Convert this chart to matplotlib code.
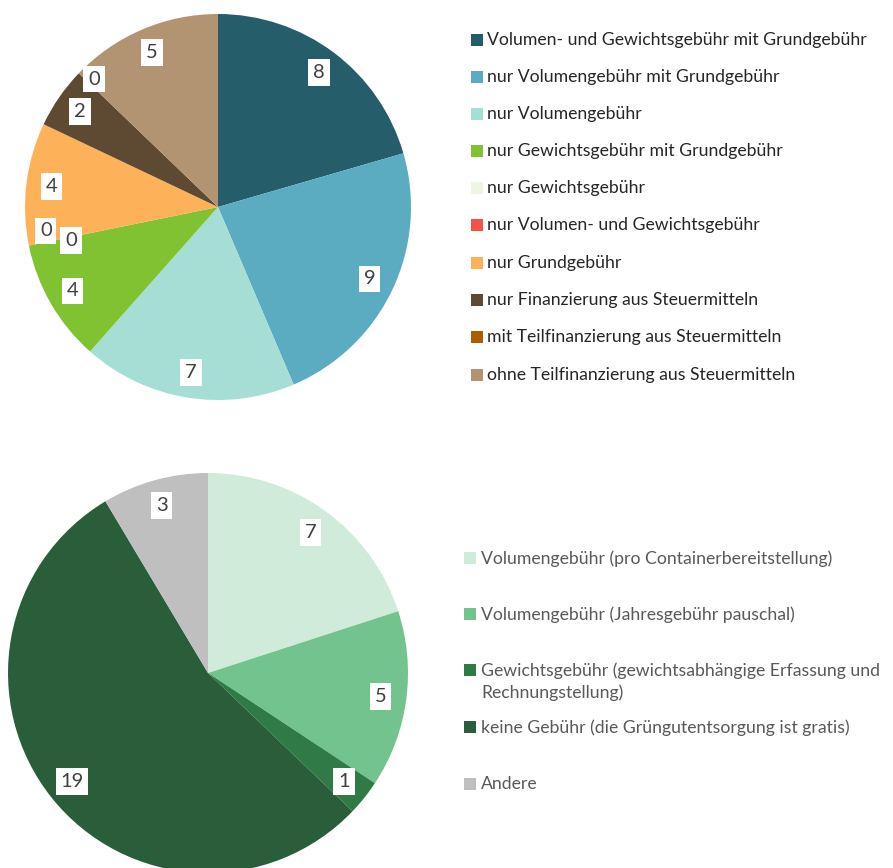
import matplotlib.pyplot as plt
import numpy as np
from matplotlib.patches import Rectangle

# --- data ---
top_labels = [
    "Volumen- und Gewichtsgebühr mit Grundgebühr",
    "nur Volumengebühr mit Grundgebühr",
    "nur Volumengebühr",
    "nur Gewichtsgebühr mit Grundgebühr",
    "nur Gewichtsgebühr",
    "nur Volumen- und Gewichtsgebühr",
    "nur Grundgebühr",
    "nur Finanzierung aus Steuermitteln",
    "mit Teilfinanzierung aus Steuermitteln",
    "ohne Teilfinanzierung aus Steuermitteln",
]
top_values = [8, 9, 7, 4, 0, 0, 4, 2, 0, 5]
top_colors = ["#265d6a", "#5bacc1", "#a6ddd5", "#80c232", "#eef5e3",
              "#f4514a", "#fdb25a", "#5e4a33", "#a85f00", "#b39472"]

bottom_labels = [
    "Volumengebühr (pro Containerbereitstellung)",
    "Volumengebühr (Jahresgebühr pauschal)",
    "Gewichtsgebühr (gewichtsabhängige Erfassung und\nRechnungstellung)",
    "keine Gebühr (die Grüngutentsorgung ist gratis)",
    "Andere",
]
bottom_values = [7, 5, 1, 19, 3]
bottom_colors = ["#d1ebda", "#72c38d", "#2f7a45", "#2a5e3a", "#bfbfbf"]

plt.rcParams["font.family"] = ["Lato", "DejaVu Sans"]

W, H = 893, 868
fig = plt.figure(figsize=(W / 100, H / 100), dpi=100)


def px_axes(cx, cy, r):
    # axes square around pie centre given in image pixels
    return fig.add_axes([(cx - r) / W, 1 - (cy + r) / H, 2 * r / W, 2 * r / H])


def draw_pie(ax, values, colors, zero_shift):
    wedges, _ = ax.pie(values, colors=colors, startangle=90, counterclock=False,
                       radius=1, wedgeprops=dict(linewidth=0))
    zi = 0
    for w, v in zip(wedges, values):
        ang = np.deg2rad((w.theta1 + w.theta2) / 2)
        x, y = 0.87 * np.cos(ang), 0.87 * np.sin(ang)
        if v == 0:
            dx, dy = zero_shift[zi]
            x, y = x + dx, y + dy
            zi += 1
        ax.text(x, y, str(v), ha="center", va="center", fontsize=14.5, color="#404040",
                bbox=dict(facecolor="white", edgecolor="none", pad=3.5))
    ax.set_xlim(-1, 1)
    ax.set_ylim(-1, 1)
    ax.set_aspect("equal")
    ax.axis("off")


ax1 = px_axes(218, 207, 193)
draw_pie(ax1, top_values, top_colors, [(-0.04, 0.05), (0.09, 0.0), (-0.015, 0.06)])

ax2 = px_axes(208, 673, 200)
draw_pie(ax2, bottom_values, bottom_colors, [])


def draw_legend(labels, colors, ys, x_box, x_text, text_color):
    for lab, col, y in zip(labels, colors, ys):
        fig.patches.append(Rectangle((x_box / W, 1 - (y + 6) / H), 12 / W, 12 / H,
                                     transform=fig.transFigure, facecolor=col,
                                     edgecolor="none"))
        fig.text(x_text / W, 1 - (y - 8) / H, lab, ha="left", va="top",
                 fontsize=12.7, color=text_color, linespacing=1.45)


draw_legend(top_labels, top_colors,
            [40, 77, 114, 151, 188, 225, 263, 300, 337, 375], 471, 487, "#262626")
draw_legend(bottom_labels, bottom_colors,
            [558, 614, 670, 727, 784], 464, 481, "#595959")

fig.savefig("out.png", dpi=100)
